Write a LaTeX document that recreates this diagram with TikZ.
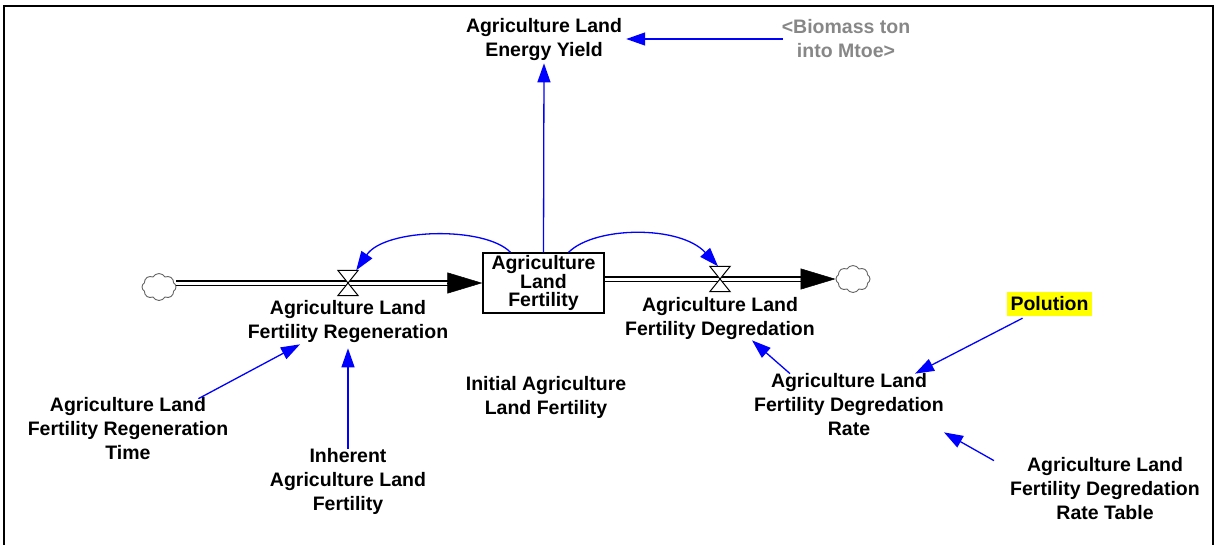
\documentclass[tikz,border=0pt]{standalone}
\usepackage{fontspec}
\setmainfont{Liberation Sans}
\usetikzlibrary{arrows.meta,shapes.symbols}
\definecolor{linkblue}{RGB}{0,0,255}
\definecolor{shadowgray}{RGB}{135,135,135}
\definecolor{hilite}{RGB}{255,255,0}
\definecolor{cloudgray}{RGB}{100,100,100}

\begin{document}
\begin{tikzpicture}[x=1pt,y=-1pt,
  lbl/.style={font=\fontsize{19.5}{24}\selectfont\bfseries, align=center, inner sep=0pt},
  stockbox/.style={draw, line width=1.3pt, minimum width=121pt, minimum height=60pt,
    inner sep=0pt, align=center, font=\fontsize{19.5}{18}\selectfont\bfseries},
  valvebox/.style={minimum width=20pt, minimum height=25pt, inner sep=0pt},
  hourglass/.style={draw, line width=1pt, fill=white},
  sink/.style={cloud, cloud puffs=8, cloud puff arc=120, aspect=1.3, draw=cloudgray, line width=0.9pt,
    fill=white, minimum width=34pt, minimum height=27pt, inner sep=0pt},
  pipe/.style={double, double distance=3pt, line width=1.5pt},
  pipehead/.style={-{Triangle[length=35pt,width=21pt]}, line width=0.5pt},
  link/.style={draw=linkblue, line width=1.3pt, -{Triangle[length=19pt,width=13pt]}},
]
\useasboundingbox (0,0) rectangle (1215,544);

% outer frame (open at the bottom)
\draw[line width=2.4pt] (4,560) -- (4,6) -- (1213,6) -- (1213,560);

% stock and its flows
\node[stockbox] (stock) at (543.5,283) {Agriculture\\Land\\Fertility};
\node[sink] (cloudL) at (159,287) {};
\node[sink] (cloudR) at (853,279) {};
\node[valvebox] (vin) at (348,283) {};
\node[valvebox] (vout) at (720,279) {};

% inflow pipe
\draw[pipe, shorten >=34pt] (cloudL.east |- vin) -- (stock.west |- vin);
\draw[pipehead] ([xshift=-35pt]stock.west |- vin) -- (stock.west |- vin);
% outflow pipe
\draw[pipe, shorten >=34pt] (stock.east |- vout) -- (cloudR.west |- vout);
\draw[pipehead] ([xshift=-35pt]cloudR.west |- vout) -- (cloudR.west |- vout);

% valves
\draw[hourglass] (vin.north west) -- (vin.north east) -- (vin.south west) -- (vin.south east) -- cycle;
\draw[hourglass] (vout.north west) -- (vout.north east) -- (vout.south west) -- (vout.south east) -- cycle;

% variables
\node[lbl] (ey) at (544,39) {Agriculture Land\\Energy Yield};
\node[lbl, text=shadowgray] (bio) at (846,39) {<Biomass ton\\into Mtoe>};
\node[lbl] (regen) at (348,321) {Agriculture Land\\Fertility Regeneration};
\node[lbl] (deg) at (720,318) {Agriculture Land\\Fertility Degredation};
\node[lbl] (init) at (546,397) {Initial Agriculture\\Land Fertility};
\node[lbl] (rtime) at (128,429) {Agriculture Land\\Fertility Regeneration\\Time};
\node[lbl] (inh) at (348,481) {Inherent\\Agriculture Land\\Fertility};
\node[lbl, fill=hilite, inner xsep=3.5pt, minimum height=24pt] (pol) at (1049.5,304) {Polution};
\node[lbl] (degrate) at (849,405) {Agriculture Land\\Fertility Degredation\\Rate};
\node[lbl] (table) at (1105,489) {Agriculture Land\\Fertility Degredation\\Rate Table};

% information links
\draw[link] (stock.north) -- ([yshift=-3pt]ey.south);
\draw[link] ([xshift=1pt]bio.west) -- ([xshift=4pt]ey.east);
\draw[link] ([xshift=-33pt]stock.north) .. controls (485,226) and (385,228) .. ([xshift=-2pt]vin.north east);
\draw[link] ([xshift=25pt]stock.north) .. controls (595,226) and (680,225) .. ([xshift=-2pt]vout.north);
\draw[link] ([xshift=-30pt,yshift=-1pt]rtime.north east) -- ([xshift=-48pt,yshift=-2pt]regen.south);
\draw[link] ([yshift=-1pt]inh.north) -- ([yshift=-6pt]regen.south);
\draw[link] ([xshift=-27pt,yshift=-2pt]pol.south) -- ([xshift=66pt]degrate.north);
\draw[link] ([xshift=-16pt,yshift=-3pt]table.north west) -- ([yshift=4pt]degrate.south east);
\draw[link] ([xshift=-59pt]degrate.north) -- ([xshift=32pt,yshift=-1pt]deg.south);
\end{tikzpicture}
\end{document}
